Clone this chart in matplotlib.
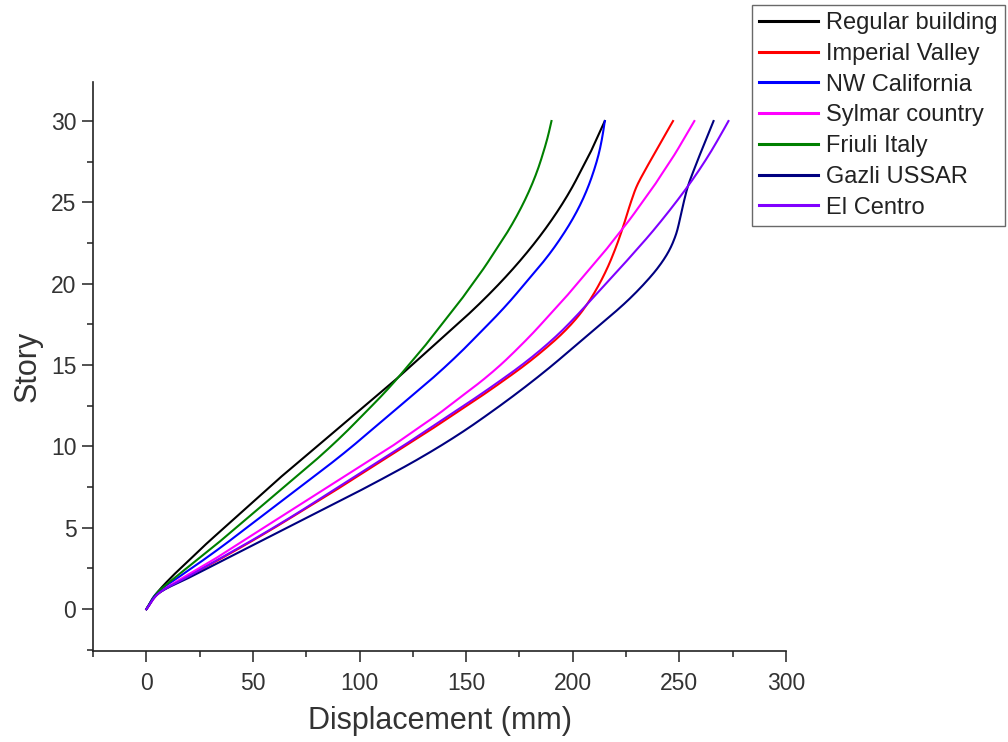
import numpy as np
import matplotlib.pyplot as plt
from matplotlib.ticker import MultipleLocator

plt.rcParams['font.family'] = ['Liberation Sans', 'DejaVu Sans']

# 層番号
story = list(range(0, 31))

# 各地震波の変位 (mm) - 図から読み取り
regular = [0, 5, 12, 20, 28, 36.5, 45, 53.5, 62, 71, 80, 89, 98, 107, 116,
           124.5, 133, 141.5, 150, 158, 165.5, 172.5, 179, 185, 190.5, 195.5,
           200, 204, 208, 211.5, 215]
imperial = [0, 6, 19.5, 33.5, 47, 60, 72.5, 85, 97, 109, 121, 133, 144.5, 156,
            167, 177.5, 187, 195.5, 202.5, 208, 212.5, 216.3, 219.5, 222.3,
            224.8, 227.2, 230, 234, 238.3, 242.6, 247]
nw_cal = [0, 5, 15.5, 26.5, 37, 47, 57, 67, 77, 87, 96.5, 105.5, 114.5, 123.5,
          132.5, 141, 149, 156.5, 164, 171, 177.5, 184, 190, 195.3, 200, 204,
          207.3, 210, 212.2, 213.8, 215]
sylmar = [0, 6, 18, 31, 43, 55, 67, 79, 91, 103, 115, 126, 137, 147, 157,
          166, 174, 181.5, 188.5, 195.5, 202, 208.5, 215, 221, 227, 232.5,
          238, 243, 248, 252.5, 257]
friuli = [0, 5, 14, 23.5, 33, 42, 51, 60, 69, 78, 86.5, 94.5, 102, 109.5,
          116.5, 123, 129.5, 135.5, 141.5, 147.5, 153, 158.5, 163.5, 168.5,
          173, 177, 180.5, 183.5, 186, 188.2, 190]
gazli = [0, 6, 21, 36, 51, 66, 81, 96, 110.5, 124.5, 137.5, 149.5, 160.5, 171,
         181, 190.5, 199.5, 208.5, 217.5, 226, 233.5, 240, 245, 248.3, 250.3,
         252, 254, 256.8, 259.8, 262.9, 266]
el_centro = [0, 6, 19.5, 33, 46.5, 59.5, 72, 84, 96, 108, 120, 131.5, 143,
             154.5, 165.5, 176, 185.5, 194, 201.5, 208.5, 215.5, 222.5, 229.3,
             236, 242.3, 248.3, 254, 259.3, 264.2, 268.7, 273]

series = [
    ("Regular building", regular, "#000000"),
    ("Imperial Valley", imperial, "#ff0000"),
    ("NW California", nw_cal, "#0000ff"),
    ("Sylmar country", sylmar, "#ff00ff"),
    ("Friuli Italy", friuli, "#008000"),
    ("Gazli USSAR", gazli, "#000080"),
    ("El Centro", el_centro, "#8000ff"),
]


def smooth(y, x, n=12):
    # Origin風のスプライン接続 (Catmull-Rom)
    y = np.asarray(y, float)
    x = np.asarray(x, float)
    m = np.gradient(x, y)
    ys, xs = [], []
    for i in range(len(y) - 1):
        h = y[i + 1] - y[i]
        t = np.linspace(0, 1, n, endpoint=False)
        h00 = 2 * t**3 - 3 * t**2 + 1
        h10 = t**3 - 2 * t**2 + t
        h01 = -2 * t**3 + 3 * t**2
        h11 = t**3 - t**2
        xs.append(h00 * x[i] + h10 * h * m[i] + h01 * x[i + 1] + h11 * h * m[i + 1])
        ys.append(y[i] + t * h)
    xs.append([x[-1]])
    ys.append([y[-1]])
    return np.concatenate(xs), np.concatenate(ys)


fig = plt.figure(figsize=(10.08, 7.42), dpi=100)
ax = fig.add_axes([0.0923, 0.122, 0.6875, 0.7675])

for name, disp, col in series:
    xs, ys = smooth(story, disp)
    ax.plot(xs, ys, color=col, lw=1.5, label=name)

ax.set_xlim(-25, 300)
ax.set_ylim(-2.6, 32.4)
ax.xaxis.set_major_locator(MultipleLocator(50))
ax.xaxis.set_minor_locator(MultipleLocator(25))
ax.yaxis.set_major_locator(MultipleLocator(5))
ax.yaxis.set_minor_locator(MultipleLocator(2.5))
ax.tick_params(which='major', direction='out', length=8, width=1.2, pad=4,
               labelsize=16.5, color='#333333', labelcolor='#333333')
ax.tick_params(axis='x', which='major', pad=7)
ax.tick_params(which='minor', direction='out', length=4.3, width=1.2,
               color='#333333')
for s in ['top', 'right']:
    ax.spines[s].set_visible(False)
for s in ['left', 'bottom']:
    ax.spines[s].set_linewidth(1.2)
    ax.spines[s].set_color('#222222')

ax.set_xlabel("Displacement (mm)", fontsize=22, color='#333333', labelpad=8)
ax.set_ylabel("Story", fontsize=22, color='#333333', labelpad=6)

leg = fig.legend(loc='upper right', bbox_to_anchor=(1005 / 1008, 1 - 5 / 742),
                 fontsize=17, frameon=True, fancybox=False, handlelength=2.5,
                 handletextpad=0.35, labelspacing=0.37, borderpad=0.3,
                 borderaxespad=0)
leg.get_frame().set_edgecolor('#444444')
leg.get_frame().set_linewidth(1.0)
for t in leg.get_texts():
    t.set_color('#222222')
for l in leg.get_lines():
    l.set_linewidth(2.2)

fig.savefig("out.png", dpi=100)
